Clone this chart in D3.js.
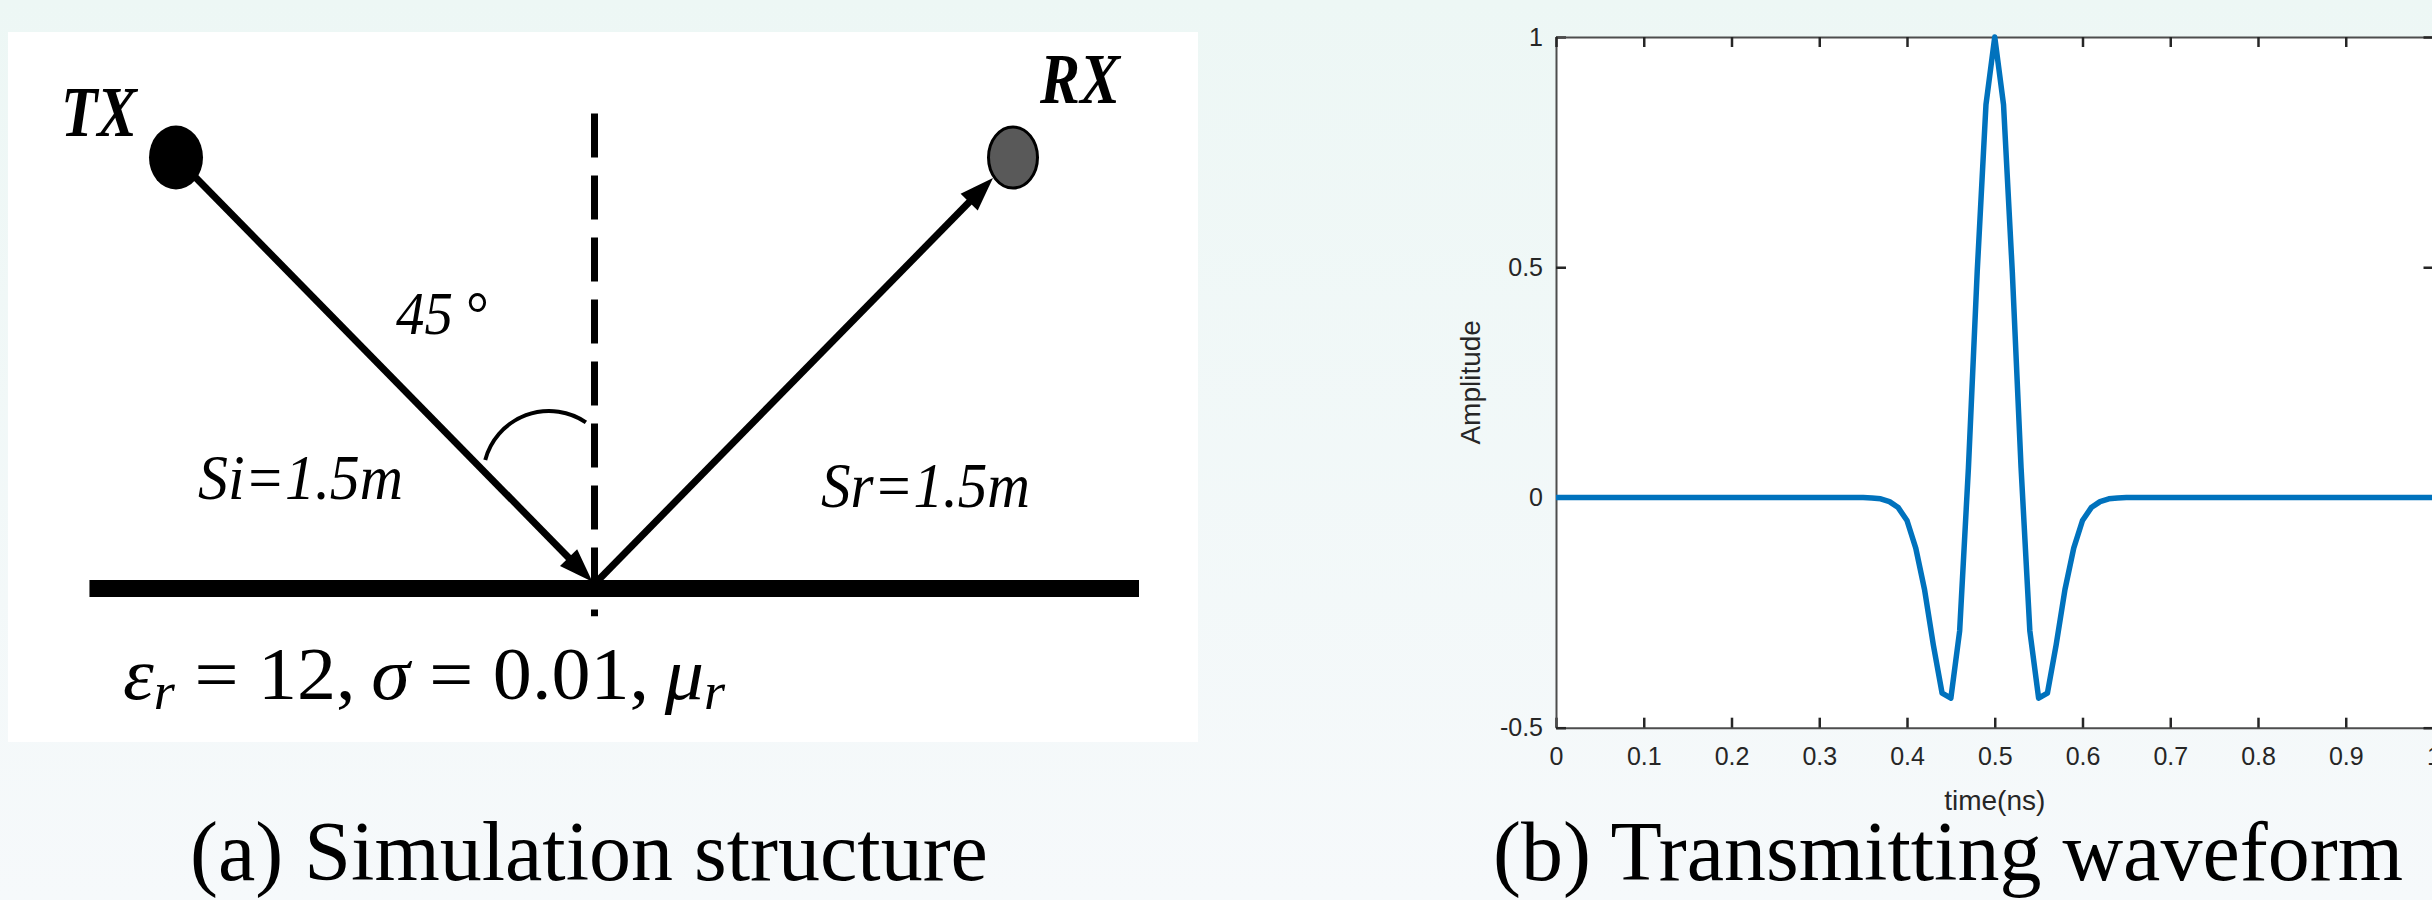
<!DOCTYPE html>
<html>
<head>
<meta charset="utf-8">
<script src="https://cdn.jsdelivr.net/npm/d3@7"></script>
<style>
  body { margin: 0; overflow: hidden; background: #f3f9f8; }
</style>
</head>
<body>
<div id="chart"></div>
<script>

// waveform samples, one every 0.01 ns
var timeNs = [0,0.01,0.02,0.03,0.04,0.05,0.06,0.07,0.08,0.09,
  0.1,0.11,0.12,0.13,0.14,0.15,0.16,0.17,0.18,0.19,
  0.2,0.21,0.22,0.23,0.24,0.25,0.26,0.27,0.28,0.29,
  0.3,0.31,0.32,0.33,0.34,0.35,0.36,0.37,0.38,0.39,
  0.4,0.41,0.42,0.43,0.44,0.45,0.46,0.47,0.48,0.49,
  0.5,0.51,0.52,0.53,0.54,0.55,0.56,0.57,0.58,0.59,
  0.6,0.61,0.62,0.63,0.64,0.65,0.66,0.67,0.68,0.69,
  0.7,0.71,0.72,0.73,0.74,0.75,0.76,0.77,0.78,0.79,
  0.8,0.81,0.82,0.83,0.84,0.85,0.86,0.87,0.88,0.89,
  0.9,0.91,0.92,0.93,0.94,0.95,0.96,0.97,0.98,0.99,1];
var amplitude = [0,0,0,0,0,0,0,0,0,0,
  0,0,0,0,0,0,0,0,0,0,
  0,0,0,0,0,0,0,0,0,0,
  0,0,0,0,0,0,-0.001,-0.003,-0.009,-0.022,
  -0.05,-0.11,-0.2,-0.32,-0.425,-0.436,-0.29,0.064,0.49,0.853,
  1,0.853,0.49,0.064,-0.29,-0.436,-0.425,-0.32,-0.2,-0.11,
  -0.05,-0.022,-0.009,-0.003,-0.001,0,0,0,0,0,
  0,0,0,0,0,0,0,0,0,0,
  0,0,0,0,0,0,0,0,0,0,
  0,0,0,0,0,0,0,0,0,0,0];
var xTicks = [0,0.1,0.2,0.3,0.4,0.5,0.6,0.7,0.8,0.9,1];
var yTicks = [-0.5,0,0.5,1];

// values of the structure sketch, panel (a)
var incidentAngle = 45;      // degrees from the normal
var pathSi = 1.5, pathSr = 1.5; // metres
var groundExtent = [-1.28, 1.38];
var normalExtent = [-0.08, 1.17];

var captions = ["(a) Simulation structure", "(b) Transmitting waveform"];

var W = 2432, H = 900;

var svg = d3.select("#chart")
  .append("svg")
    .attr("width", W)
    .attr("height", H);

// page background
var grad = svg.append("defs").append("linearGradient")
  .attr("id", "bg").attr("x1", 0).attr("y1", 0).attr("x2", 0).attr("y2", 1);
grad.append("stop").attr("offset", "0%").attr("stop-color", "#edf7f5");
grad.append("stop").attr("offset", "100%").attr("stop-color", "#f6f9fb");
svg.append("rect").attr("width", W).attr("height", H).attr("fill", "url(#bg)");

// ---------------- panel (a): simulation structure ----------------
var gA = svg.append("g");
gA.append("rect")
  .attr("x", 8).attr("y", 32)
  .attr("width", 1190).attr("height", 710)
  .attr("fill", "#ffffff");

var rad = incidentAngle * Math.PI / 180;
var txPos = [-pathSi * Math.sin(rad), pathSi * Math.cos(rad)];
var rxPos = [pathSr * Math.sin(rad), pathSr * Math.cos(rad)];

// metres -> pixels
var sx = d3.scaleLinear().domain([txPos[0], rxPos[0]]).range([176, 1013]);
var sy = d3.scaleLinear().domain([0, txPos[1]]).range([584, 157.5]);

var hit = [sx(0), sy(0)];
var tx = [sx(txPos[0]), sy(txPos[1])];
var rx = [sx(rxPos[0]), sy(rxPos[1])];
var rxR = [26, 32], txR = [27, 32];

function unit(a, b) {
  var dx = b[0] - a[0], dy = b[1] - a[1], l = Math.sqrt(dx * dx + dy * dy);
  return [dx / l, dy / l];
}
function arrowHead(tip, u, L, w) {
  var bx = tip[0] - L * u[0], by = tip[1] - L * u[1];
  return [[tip[0], tip[1]], [bx - w * u[1], by + w * u[0]], [bx + w * u[1], by - w * u[0]]];
}

// normal (dashed)
gA.append("line")
  .attr("x1", sx(0)).attr("x2", sx(0))
  .attr("y1", sy(normalExtent[1])).attr("y2", sy(normalExtent[0]))
  .attr("stroke", "#000").attr("stroke-width", 7)
  .attr("stroke-dasharray", "44 18");

// incident ray
var uIn = unit(tx, hit);
var tipIn = [hit[0] - 3 * uIn[0], hit[1] - 3 * uIn[1]];
gA.append("line")
  .attr("x1", tx[0]).attr("y1", tx[1])
  .attr("x2", tipIn[0] - 30 * uIn[0]).attr("y2", tipIn[1] - 30 * uIn[1])
  .attr("stroke", "#000").attr("stroke-width", 7);
gA.append("polygon")
  .attr("points", arrowHead(tipIn, uIn, 34, 12).join(" "))
  .attr("fill", "#000");

// reflected ray
var uOut = unit(hit, rx);
var tOut = 1 / Math.sqrt(Math.pow(uOut[0] / rxR[0], 2) + Math.pow(uOut[1] / rxR[1], 2));
var tipOut = [rx[0] - tOut * uOut[0], rx[1] - tOut * uOut[1]];
gA.append("line")
  .attr("x1", hit[0] + 2).attr("y1", hit[1] - 2)
  .attr("x2", tipOut[0] - 30 * uOut[0]).attr("y2", tipOut[1] - 30 * uOut[1])
  .attr("stroke", "#000").attr("stroke-width", 7);
gA.append("polygon")
  .attr("points", arrowHead(tipOut, uOut, 34, 12).join(" "))
  .attr("fill", "#000");

// ground
gA.append("rect")
  .attr("x", sx(groundExtent[0])).attr("y", 580)
  .attr("width", sx(groundExtent[1]) - sx(groundExtent[0])).attr("height", 17)
  .attr("fill", "#000");

// angle arc
var p = d3.path();
p.arc(549, 477, 66, 195 * Math.PI / 180, 304 * Math.PI / 180);
gA.append("path").attr("d", p.toString())
  .attr("fill", "none").attr("stroke", "#000").attr("stroke-width", 4);

// antennas
gA.append("ellipse")
  .attr("cx", tx[0]).attr("cy", tx[1]).attr("rx", txR[0]).attr("ry", txR[1])
  .attr("fill", "#000");
gA.append("ellipse")
  .attr("cx", rx[0]).attr("cy", rx[1]).attr("rx", rxR[0] - 1.5).attr("ry", rxR[1] - 1.5)
  .attr("fill", "#595959").attr("stroke", "#000").attr("stroke-width", 3);

// labels
var serif = "'Liberation Serif', 'Times New Roman', serif";
function label(txt, x, y, size, len, bold) {
  gA.append("text")
    .attr("x", x).attr("y", y)
    .attr("textLength", len).attr("lengthAdjust", "spacingAndGlyphs")
    .style("font-family", serif)
    .style("font-style", "italic")
    .style("font-weight", bold ? "bold" : "normal")
    .style("font-size", size + "px")
    .text(txt);
}
label("TX", 61, 136, 71, 76, true);
label("RX", 1040, 103, 71, 80, true);
label("45\u2009°", 396, 334, 62, 91, false);
label("Si=1.5m", 198, 499, 64, 205, false);
label("Sr=1.5m", 821, 507, 64, 209, false);

var f = gA.append("text")
  .attr("x", 123).attr("y", 699)
  .attr("textLength", 602).attr("lengthAdjust", "spacingAndGlyphs")
  .style("font-family", serif)
  .style("font-size", "75px");
f.append("tspan").style("font-style", "italic").text("ε");
f.append("tspan").style("font-style", "italic").style("font-size", "52px").attr("dy", 10).text("r");
f.append("tspan").attr("dy", -10).text(" = 12,\u2009");
f.append("tspan").style("font-style", "italic").text("σ");
f.append("tspan").text(" = 0.01,\u2009");
f.append("tspan").style("font-style", "italic").text("μ");
f.append("tspan").style("font-style", "italic").style("font-size", "52px").attr("dy", 10).text("r");

// ---------------- panel (b): transmitting waveform ----------------
var x = d3.scaleLinear().domain([0, 1]).range([1556, 2433.5]);
var y = d3.scaleLinear().domain([-0.5, 1]).range([727.7, 37]);

svg.append("rect")
  .attr("x", x(0)).attr("y", y(1))
  .attr("width", x(1) - x(0)).attr("height", y(-0.5) - y(1))
  .attr("fill", "#ffffff");

// MATLAB style labels, plain hyphen for negatives
var fmt = function(d) { return String(+d.toFixed(1)); };

var axB = svg.append("g")
  .attr("transform", "translate(0," + y(-0.5) + ")")
  .call(d3.axisBottom(x).tickValues(xTicks).tickFormat(fmt)
    .tickSizeInner(-10).tickSizeOuter(0).tickPadding(20));
var axL = svg.append("g")
  .attr("transform", "translate(" + x(0) + ",0)")
  .call(d3.axisLeft(y).tickValues(yTicks).tickFormat(fmt)
    .tickSizeInner(-10).tickSizeOuter(0).tickPadding(13));
var axT = svg.append("g")
  .attr("transform", "translate(0," + y(1) + ")")
  .call(d3.axisTop(x).tickValues(xTicks).tickFormat("")
    .tickSizeInner(-10).tickSizeOuter(0));
var axR = svg.append("g")
  .attr("transform", "translate(" + x(1) + ",0)")
  .call(d3.axisRight(y).tickValues(yTicks).tickFormat("")
    .tickSizeInner(-10).tickSizeOuter(0));

[axB, axL, axT, axR].forEach(function(a) {
  a.select(".domain").attr("stroke", "#4d4d4d").attr("stroke-width", 2);
  a.selectAll(".tick line").attr("stroke", "#262626").attr("stroke-width", 2.5);
  a.selectAll(".tick text")
    .attr("fill", "#262626")
    .style("font-family", "'Liberation Sans', Arial, sans-serif")
    .style("font-size", "25px");
});

// the waveform
var line = d3.line()
  .x(function(d, i) { return x(timeNs[i]); })
  .y(function(d) { return y(d); });
svg.append("path")
  .datum(amplitude)
  .attr("d", line)
  .attr("fill", "none")
  .attr("stroke", "#0072bd")
  .attr("stroke-width", 5.5)
  .attr("stroke-linejoin", "round");

// axis titles
svg.append("text")
  .attr("x", x(0.5)).attr("y", 810)
  .attr("text-anchor", "middle")
  .attr("fill", "#262626")
  .style("font-family", "'Liberation Sans', Arial, sans-serif")
  .style("font-size", "28px")
  .text("time(ns)");
svg.append("text")
  .attr("transform", "translate(1480," + y(0.25) + ") rotate(-90)")
  .attr("text-anchor", "middle")
  .attr("fill", "#262626")
  .style("font-family", "'Liberation Sans', Arial, sans-serif")
  .style("font-size", "28px")
  .text("Amplitude");

// captions
svg.selectAll(".caption")
  .data(captions)
  .enter()
  .append("text")
    .attr("class", "caption")
    .attr("x", function(d, i) { return i === 0 ? 589 : 1948; })
    .attr("y", 880)
    .attr("text-anchor", "middle")
    .style("font-family", serif)
    .style("font-size", "84px")
    .text(function(d) { return d; });

</script>
</body>
</html>
